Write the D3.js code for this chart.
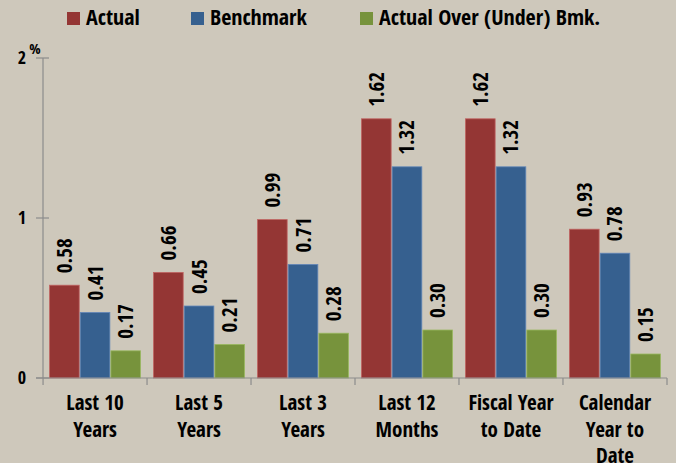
<!DOCTYPE html>
<html>
<head>
<meta charset="utf-8">
<script src="https://cdn.jsdelivr.net/npm/d3@7"></script>
<style>
  body { margin: 0; background: #cec8bb; }
  svg { display: block; }
  text { font-family: "Liberation Sans Narrow", "Open Sans Condensed", Lato, sans-serif; }
</style>
</head>
<body>
<div class="wrapper"></div>
<script>
// chart data
var categories = ["Last 10|Years", "Last 5|Years", "Last 3|Years", "Last 12|Months", "Fiscal Year|to Date", "Calendar|Year to|Date"];
var seriesNames = ["Actual", "Benchmark", "Actual Over (Under) Bmk."];
var actual = [0.58, 0.66, 0.99, 1.62, 1.62, 0.93];
var benchmark = [0.41, 0.45, 0.71, 1.32, 1.32, 0.78];
var overUnder = [0.17, 0.21, 0.28, 0.30, 0.30, 0.15];
var yTicks = [0, 1, 2];

var colors = ["#943634", "#36608f", "#77933c"];
var strokes = ["#c06462", "#6488b8", "#9ab860"];

var width = 676, height = 463;
var margin = {top: 58, right: 9, bottom: 85, left: 43};

var svg = d3.select(".wrapper")
  .append("svg")
    .attr("width", width)
    .attr("height", height);

var x0 = d3.scaleBand()
    .domain(categories)
    .range([margin.left, width - margin.right])
    .paddingInner(0.115)
    .paddingOuter(0.058);

var x1 = d3.scaleBand()
    .domain(seriesNames)
    .range([0, x0.bandwidth()]);

var y = d3.scaleLinear()
    .domain([0, 2])
    .range([height - margin.bottom, margin.top]);

var table = categories.map(function(c, i) {
  return {cat: c, values: [actual[i], benchmark[i], overUnder[i]]};
});

// bars
var groups = svg.append("g")
  .selectAll("g")
  .data(table)
  .enter().append("g")
    .attr("transform", function(d) { return "translate(" + x0(d.cat) + ",0)"; });

groups.selectAll("rect")
  .data(function(d) { return d.values.map(function(v, j) { return {v: v, j: j}; }); })
  .enter().append("rect")
    .attr("x", function(d) { return x1(seriesNames[d.j]) + 0.5; })
    .attr("y", function(d) { return y(d.v); })
    .attr("width", x1.bandwidth() - 1)
    .attr("height", function(d) { return y(0) - y(d.v); })
    .attr("fill", function(d) { return colors[d.j]; })
    .attr("stroke", function(d) { return strokes[d.j]; })
    .attr("stroke-width", 0.8);

// value labels
groups.selectAll("text.val")
  .data(function(d) { return d.values.map(function(v, j) { return {v: v, j: j}; }); })
  .enter().append("text")
    .attr("class", "val")
    .attr("transform", function(d) {
      var cx = x1(seriesNames[d.j]) + x1.bandwidth() / 2;
      return "translate(" + (cx + 7.5) + "," + (y(d.v) - 12) + ") rotate(-90)";
    })
    .attr("font-size", 21)
    .attr("font-weight", "bold")
    .attr("fill", "#000")
    .text(function(d) { return d3.format(".2f")(d.v); });

// y axis
var axisColor = "#8c8c8c";
svg.append("line")
  .attr("x1", margin.left).attr("x2", margin.left)
  .attr("y1", y(2)).attr("y2", y(0))
  .attr("stroke", axisColor).attr("stroke-width", 1.2);

svg.selectAll("line.ytick")
  .data(yTicks)
  .enter().append("line")
    .attr("x1", margin.left - 7).attr("x2", margin.left + 6)
    .attr("y1", function(d) { return y(d); })
    .attr("y2", function(d) { return y(d); })
    .attr("stroke", axisColor).attr("stroke-width", 1.2);

svg.selectAll("text.ylab")
  .data(yTicks)
  .enter().append("text")
    .attr("x", 26)
    .attr("y", function(d) { return y(d) + 6; })
    .attr("text-anchor", "end")
    .attr("font-size", 18)
    .attr("fill", "#000")
    .text(function(d) { return d; });

svg.append("text")
  .attr("x", 35).attr("y", 54)
  .attr("text-anchor", "middle")
  .attr("font-size", 15)
  .attr("font-weight", "bold")
  .text("%");

// x axis
svg.append("line")
  .attr("x1", margin.left - 7).attr("x2", width - margin.right)
  .attr("y1", y(0)).attr("y2", y(0))
  .attr("stroke", axisColor).attr("stroke-width", 1.2);

var bandEdges = categories.map(function(c) { return x0(c) - x0.step() * x0.paddingInner() / 2; });
bandEdges.push(width - margin.right);
svg.selectAll("line.xtick")
  .data(bandEdges)
  .enter().append("line")
    .attr("x1", function(d) { return d; }).attr("x2", function(d) { return d; })
    .attr("y1", y(0)).attr("y2", y(0) + 7)
    .attr("stroke", axisColor).attr("stroke-width", 1.2);

var xlab = svg.selectAll("text.xlab")
  .data(categories)
  .enter().append("text")
    .attr("text-anchor", "middle")
    .attr("font-size", 21)
    .attr("font-weight", "bold")
    .attr("fill", "#000");

xlab.selectAll("tspan")
  .data(function(d) { return d.split("|").map(function(t) { return {t: t, c: d}; }); })
  .enter().append("tspan")
    .attr("x", function(d) { return x0(d.c) + x0.bandwidth() / 2; })
    .attr("y", function(d, i) { return 410 + i * 26.5; })
    .text(function(d) { return d.t; });

// legend
var legendX = [67, 191, 360];
var legend = svg.selectAll("g.legend")
  .data(seriesNames)
  .enter().append("g")
    .attr("transform", function(d, i) { return "translate(" + legendX[i] + ",12)"; });

legend.append("rect")
  .attr("width", 13).attr("height", 13)
  .attr("fill", function(d, i) { return colors[i]; });

legend.append("text")
  .attr("x", 19).attr("y", 13)
  .attr("font-size", 22)
  .attr("font-weight", "bold")
  .text(function(d) { return d; });
</script>
</body>
</html>
